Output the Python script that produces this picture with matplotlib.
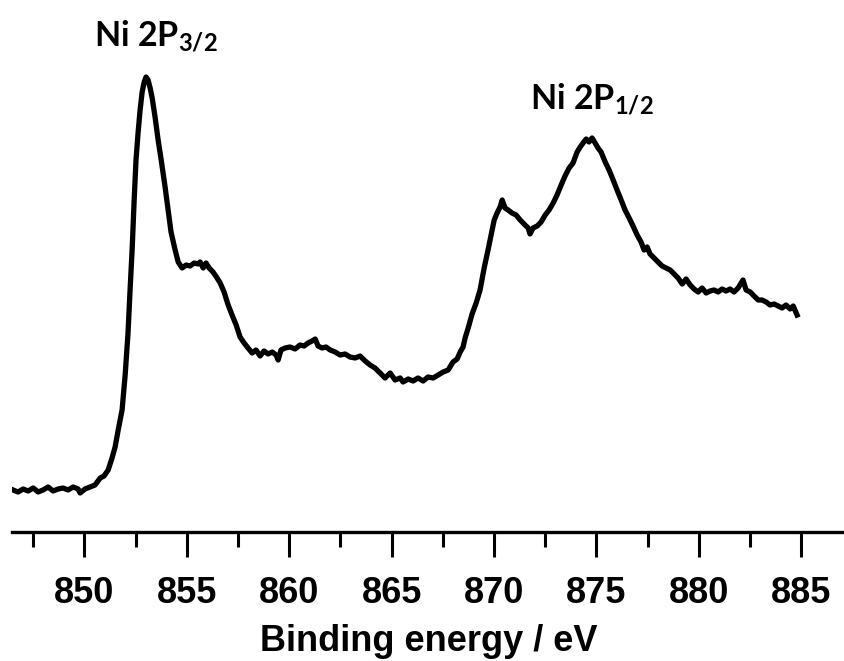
import matplotlib
matplotlib.use("Agg")
import matplotlib.pyplot as plt
from matplotlib.ticker import MultipleLocator

# Binding energy (eV) and intensity (a.u.)
energy = [
    846.52, 846.76, 847.01, 847.25, 847.50, 847.74, 847.98, 848.23, 848.47, 848.72,
    848.96, 849.20, 849.45, 849.69, 849.79, 850.03, 850.28, 850.52, 850.77, 850.96,
    851.16, 851.35, 851.50, 851.65, 851.84, 851.99, 852.13, 852.23, 852.33, 852.43,
    852.52, 852.62, 852.72, 852.82, 852.92, 853.01, 853.11, 853.21, 853.31, 853.45,
    853.60, 853.75, 853.94, 854.09, 854.23, 854.43, 854.58, 854.77, 854.97, 855.16,
    855.36, 855.55, 855.65, 855.80, 855.94, 856.09, 856.28, 856.48, 856.63, 856.82,
    857.02, 857.21, 857.41, 857.60, 857.80, 857.99, 858.19, 858.38, 858.58, 858.77,
    858.97, 859.17, 859.36, 859.46, 859.60, 859.80, 860.04, 860.29, 860.53, 860.73,
    860.92, 861.12, 861.27, 861.41, 861.61, 861.80, 862.00, 862.24, 862.49, 862.73,
    862.97, 863.22, 863.46, 863.71, 863.95, 864.19, 864.44, 864.68, 864.93, 865.17,
    865.42, 865.56, 865.81, 866.05, 866.29, 866.54, 866.78, 867.03, 867.27, 867.52,
    867.76, 868.00, 868.20, 868.35, 868.49, 868.59, 868.74, 868.93, 869.13, 869.32,
    869.52, 869.71, 869.86, 870.01, 870.15, 870.30, 870.40, 870.54, 870.69, 870.88,
    871.08, 871.28, 871.47, 871.67, 871.76, 871.91, 872.11, 872.30, 872.50, 872.69,
    872.89, 873.08, 873.28, 873.47, 873.67, 873.86, 874.06, 874.21, 874.35, 874.50,
    874.64, 874.79, 874.94, 875.08, 875.23, 875.43, 875.62, 875.82, 876.01, 876.21,
    876.40, 876.60, 876.79, 876.99, 877.18, 877.33, 877.48, 877.62, 877.82, 878.01,
    878.21, 878.40, 878.60, 878.80, 878.99, 879.19, 879.38, 879.58, 879.77, 879.97,
    880.16, 880.36, 880.55, 880.75, 880.94, 881.14, 881.33, 881.53, 881.72, 881.92,
    882.16, 882.31, 882.51, 882.70, 882.90, 883.09, 883.29, 883.48, 883.68, 883.87,
    884.07, 884.26, 884.46, 884.61, 884.80,
]
intensity = [
    42, 40, 43, 41, 44, 40, 42, 45, 41, 43,
    44, 42, 45, 43, 39, 43, 45, 47, 54, 56,
    62, 74, 85, 102, 122, 157, 199, 242, 282, 332,
    372, 399, 422, 440, 450, 455, 452, 444, 434, 415,
    392, 372, 345, 322, 300, 282, 270, 264, 267, 266,
    269, 268, 270, 264, 269, 264, 260, 254, 249, 240,
    227, 217, 207, 195, 189, 184, 179, 182, 176, 181,
    178, 180, 177, 172, 182, 184, 185, 183, 187, 186,
    189, 191, 193, 186, 184, 185, 182, 180, 177, 178,
    175, 174, 176, 171, 167, 164, 159, 154, 159, 152,
    154, 150, 153, 151, 154, 151, 155, 154, 157, 160,
    162, 170, 173, 180, 185, 194, 204, 218, 229, 242,
    264, 282, 297, 312, 319, 325, 332, 324, 322, 319,
    317, 312, 308, 304, 298, 304, 306, 310, 317, 322,
    329, 337, 347, 356, 364, 369, 380, 385, 389, 393,
    390, 394, 389, 384, 380, 370, 362, 352, 342, 332,
    322, 314, 306, 297, 290, 282, 285, 278, 274, 270,
    266, 264, 262, 258, 254, 248, 253, 247, 243, 240,
    244, 239, 241, 242, 240, 243, 241, 243, 240, 244,
    252, 242, 240, 236, 232, 232, 230, 227, 228, 226,
    224, 227, 223, 226, 217,
]

xlim = (846.45, 887.14)
ylim = (0, 532)
major_ticks = [850, 855, 860, 865, 870, 875, 880, 885]
xlabel = "Binding energy / eV"
label_32 = r"Ni 2P$_{3/2}$"
label_12 = r"Ni 2P$_{1/2}$"

plt.rcParams["mathtext.fontset"] = "custom"
plt.rcParams["mathtext.rm"] = "Lato:bold"
plt.rcParams["mathtext.it"] = "Lato:bold"
plt.rcParams["mathtext.bf"] = "Lato:bold"

W, H = 845, 661
fig = plt.figure(figsize=(W / 100, H / 100), dpi=100)
ax = fig.add_axes([11.7 / W, (H - 532) / H, (W - 11.7) / W, 532 / H])

ax.plot(energy, intensity, color="black", lw=3.8, solid_joinstyle="round")
ax.set_xlim(*xlim)
ax.set_ylim(*ylim)

for s in ["left", "right", "top"]:
    ax.spines[s].set_visible(False)
ax.spines["bottom"].set_linewidth(2.4)
ax.set_yticks([])
ax.set_xticks(major_ticks)
ax.xaxis.set_minor_locator(MultipleLocator(2.5))
ax.tick_params(axis="x", which="major", direction="out", length=18, width=2.2, pad=14)
ax.tick_params(axis="x", which="minor", direction="out", length=11, width=2.2)
for lab in ax.get_xticklabels():
    lab.set_fontfamily("Liberation Sans")
    lab.set_fontweight("bold")
    lab.set_fontsize(26)
ax.set_xlabel(xlabel, fontfamily="Liberation Sans", fontweight="bold", fontsize=26, labelpad=9)

fig.text(156 / W, 1 - 45 / H, label_32, fontfamily="Lato", fontweight="bold",
         fontsize=24.5, ha="center", va="baseline")
fig.text(592 / W, 1 - 108 / H, label_12, fontfamily="Lato", fontweight="bold",
         fontsize=24.5, ha="center", va="baseline")

fig.savefig("out.png", dpi=100)
